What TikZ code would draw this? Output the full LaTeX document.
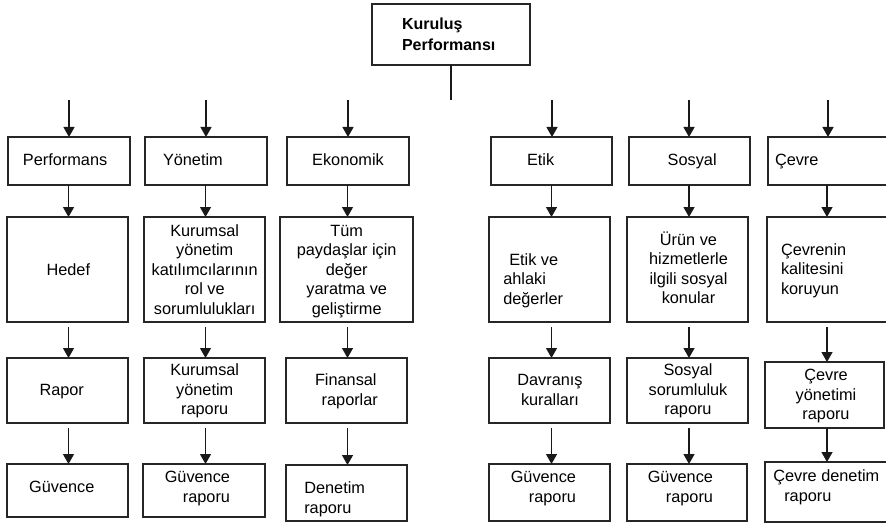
\documentclass[tikz,border=0pt]{standalone}
\usepackage{fontspec}
\setmainfont{Liberation Sans}
\usetikzlibrary{arrows.meta}

\tikzset{
  box/.style={draw=black!85, line width=1.6pt, inner sep=0pt, outer sep=0pt},
  txt/.style={inner sep=0pt, outer sep=0pt, font=\fontsize{16.3}{19.5}\selectfont},
  toptxt/.style={inner sep=0pt, outer sep=0pt, font=\fontsize{16}{20.5}\selectfont\bfseries},
  arr/.style={line width=1.3pt, draw=black!90, -{Triangle[width=11pt,length=10pt]}},
  link/.style={line width=1.3pt, draw=black!90},
}

% a framed cell given by its top-left and bottom-right corners
\newcommand\cell[5]{%
  \node[box, anchor=north west, minimum width=#4pt-#2pt, minimum height=#5pt-#3pt] (#1) at (#2,#3) {};}

\begin{document}
\begin{tikzpicture}[x=1pt, y=-1pt]
\clip (0,0) rectangle (886,524);

% ---------- root ----------
\cell{root}{372}{4}{530}{65}
\node[toptxt, anchor=west, align=left] (troot) at (402,36.15)
  {\strut Kuruluş\\\strut Performansı};
\coordinate (hub) at (451,100.5);
\draw[link] (root.south) -- (hub);

% column axes
\coordinate (x1) at (68.5,0);
\coordinate (x2) at (205.5,0);
\coordinate (x3) at (347.5,0);
\coordinate (x4) at (551.5,0);
\coordinate (x5) at (689,0);
\coordinate (x6) at (827,0);

% free starts of the first row of arrows
\coordinate (s1) at (69,100.5);
\coordinate (s2) at (206,100.5);
\coordinate (s3) at (348,100.5);
\coordinate (s4) at (552,100.5);
\coordinate (s5) at (689,100.5);
\coordinate (s6) at (828,100.5);

% ---------- row 1 ----------
\cell{a1}{8}{137}{130}{185}
\cell{a2}{145}{137}{267}{185}
\cell{a3}{287}{137}{409}{185}
\cell{a4}{491}{137}{612}{185}
\cell{a5}{629}{137}{750}{185}
\cell{a6}{768}{137}{900}{185}

\node[txt, anchor=west]  (ta1) at (23,161.8)  {\strut Performans};
\node[txt, anchor=west]  (ta2) at (163,161.8) {\strut Yönetim};
\node[txt]               (ta3) at (348,161.8) {\strut Ekonomik};
\node[txt, anchor=west]  (ta4) at (527,161.8) {\strut Etik};
\node[txt, anchor=west]  (ta5) at (667.7,161.8) {\strut Sosyal};
\node[txt, anchor=west]  (ta6) at (775,161.8) {\strut Çevre};

% ---------- row 2 ----------
\cell{b1}{7}{217}{128}{322}
\cell{b2}{144}{217}{265}{322}
\cell{b3}{280}{217}{413}{322}
\cell{b4}{489}{217}{610}{322}
\cell{b5}{627}{217}{748}{322}
\cell{b6}{767}{217}{900}{322}

\node[txt] (tb1) at (68.3,271.4) {\strut Hedef};
\node[txt, align=center] (tb2) at (204.7,271.1)
  {\strut Kurumsal\\\strut yönetim\\\strut katılımcılarının\\\strut rol ve\\\strut sorumlulukları};
\node[txt, align=center] (tb3) at (346.7,271.1)
  {\strut Tüm\\\strut paydaşlar için\\\strut değer\\\strut yaratma ve\\\strut geliştirme};
\node[txt, anchor=west, align=left] (tb4) at (503.3,280.6)
  {\strut\hspace*{6pt}Etik ve\\\strut ahlaki\\\strut değerler};
\node[txt, align=center] (tb5) at (688.5,270.65)
  {\strut Ürün ve\\\strut hizmetlerle\\\strut ilgili sosyal\\\strut konular};
\node[txt, anchor=west, align=left] (tb6) at (781,270.6)
  {\strut Çevrenin\\\strut kalitesini\\\strut koruyun};

% ---------- row 3 ----------
\cell{c1}{7}{358}{128}{423}
\cell{c2}{144}{358}{265}{423}
\cell{c3}{286}{358}{407}{423}
\cell{c4}{489}{358}{610}{423}
\cell{c5}{627}{358}{748}{423}
\cell{c6}{765}{362}{884}{428}

\node[txt] (tc1) at (61.7,391.8) {\strut Rapor};
\node[txt, align=center] (tc2) at (204.7,391.3)
  {\strut Kurumsal\\\strut yönetim\\\strut raporu};
\node[txt, anchor=west, align=left] (tc3) at (315,391.55)
  {\strut Finansal\\\strut\hspace*{6.7pt}raporlar};
\node[txt, align=center] (tc4) at (550,391.55)
  {\strut Davranış\\\strut kuralları};
\node[txt, align=center] (tc5) at (688,391.3)
  {\strut Sosyal\\\strut sorumluluk\\\strut raporu};
\node[txt, align=center] (tc6) at (826,396.3)
  {\strut Çevre\\\strut yönetimi\\\strut raporu};

% ---------- row 4 ----------
\cell{d1}{7}{464}{128}{517}
\cell{d2}{143}{464}{265}{517}
\cell{d3}{286}{465}{407}{521}
\cell{d4}{489}{464}{610}{521}
\cell{d5}{627}{464}{747}{521}
\cell{d6}{765}{462}{900}{522}

\node[txt] (td1) at (61.8,488.4) {\strut Güvence};
\node[txt, anchor=east, align=right] (td2) at (230,488.55)
  {\strut Güvence\\\strut raporu};
\node[txt, anchor=west, align=left] (td3) at (304.3,499.55)
  {\strut Denetim\\\strut raporu};
\node[txt, anchor=east, align=right] (td4) at (576,488.55)
  {\strut Güvence\\\strut raporu};
\node[txt, anchor=east, align=right] (td5) at (713,488.55)
  {\strut Güvence\\\strut raporu};
\node[txt, anchor=west, align=left] (td6) at (773.3,487.55)
  {\strut Çevre denetim\\\strut\hspace*{11pt}raporu};

% ---------- connectors ----------
\draw[arr] (s1) -- (a1.north -| s1);
\draw[arr] (s2) -- (a2.north -| s2);
\draw[arr] (s3) -- (a3.north -| s3);
\draw[arr] (s4) -- (a4.north -| s4);
\draw[arr] (s5) -- (a5.north -| s5);
\draw[arr] (s6) -- (a6.north -| s6);

\draw[arr] (a1.south -| x1) -- (b1.north -| x1);
\draw[arr] (a2.south -| x2) -- (b2.north -| x2);
\draw[arr] (a3.south -| x3) -- (b3.north -| x3);
\draw[arr] (a4.south -| x4) -- (b4.north -| x4);
\draw[arr] (a5.south -| x5) -- (b5.north -| x5);
\draw[arr] (a6.south -| x6) -- (b6.north -| x6);

\draw[arr, shorten <=5pt] (b1.south -| x1) -- (c1.north -| x1);
\draw[arr, shorten <=5pt] (b2.south -| x2) -- (c2.north -| x2);
\draw[arr, shorten <=5pt] (b3.south -| x3) -- (c3.north -| x3);
\draw[arr, shorten <=5pt] (b4.south -| x4) -- (c4.north -| x4);
\draw[arr, shorten <=5pt] (b5.south -| x5) -- (c5.north -| x5);
\draw[arr, shorten <=5pt] (b6.south -| x6) -- (c6.north -| x6);

\draw[arr, shorten <=5pt] (c1.south -| x1) -- (d1.north -| x1);
\draw[arr, shorten <=5pt] (c2.south -| x2) -- (d2.north -| x2);
\draw[arr, shorten <=5pt] (c3.south -| x3) -- (d3.north -| x3);
\draw[arr, shorten <=5pt] (c4.south -| x4) -- (d4.north -| x4);
\draw[arr, shorten <=5pt] (c5.south -| x5) -- (d5.north -| x5);
\draw[arr] (c6.south -| x6) -- (d6.north -| x6);
\end{tikzpicture}
\end{document}
